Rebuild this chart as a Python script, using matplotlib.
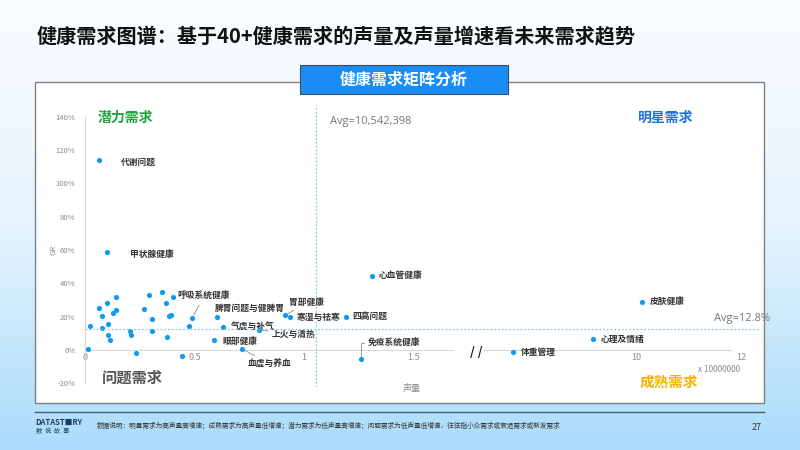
import numpy as np
import matplotlib
matplotlib.use("Agg")
import matplotlib.pyplot as plt
from matplotlib.patches import Rectangle
from matplotlib.colors import LinearSegmentedColormap

plt.rcParams['font.family'] = ['Noto Sans CJK SC', 'DejaVu Sans']

# 声量 (x 10000000) / 增速 (%)
names = ['代谢问题', '甲状腺健康', '呼吸系统健康', '脾胃问题与健脾胃', '气虚与补气',
         '眼部健康', '血虚与养血', '上火与清热', '胃部健康', '寒湿与祛寒',
         '四高问题', '心血管健康', '免疫系统健康']
vol = [0.065, 0.10, 0.49, 0.605, 0.63, 0.59, 0.715, 0.795, 0.915, 0.935,
       1.19, 1.31, 1.26]
gr = [113.8, 58.8, 19.4, 19.6, 13.8, 5.8, 0.8, 12.0, 20.8, 19.6,
      19.6, 44.6, -5.4]

# unlabeled small needs
small_vol = [0.015, 0.021, 0.064, 0.076, 0.076, 0.10, 0.107, 0.104, 0.113, 0.14,
             0.13, 0.14, 0.205, 0.21, 0.233, 0.268, 0.294, 0.307, 0.306, 0.35,
             0.37, 0.383, 0.393, 0.373, 0.40, 0.444, 0.475]
small_gr = [0.5, 14.4, 25.4, 20.4, 13.4, 28.4, 15.8, 8.8, 5.8, 31.6,
            22.4, 24.0, 11.6, 9.0, -1.6, 24.4, 32.8, 18.8, 11.2, 35.0,
            28.4, 20.4, 20.8, 8.0, 31.8, -3.6, 14.4]

# big needs on the right side of the break
big_names = ['体重管理', '心理及情绪', '皮肤健康']
big_vol = [7.65, 9.18, 10.11]
big_gr = [-1.2, 6.4, 29.0]

avg_vol = 1.0542398
avg_gr = 12.8

left_ticks = [0, 0.5, 1, 1.5]
right_ticks = [10, 12]
y_ticks = [-20, 0, 20, 40, 60, 80, 100, 120, 140]

# label offsets in pixels (dx, dy), default (7, 0)
offsets = {'代谢问题': (22, -2), '甲状腺健康': (23, -2), '呼吸系统健康': (-15, 21),
           '脾胃问题与健脾胃': (-3, 9), '气虚与补气': (8, 1), '眼部健康': (8, -1),
           '血虚与养血': (6, -15), '上火与清热': (13, -4), '胃部健康': (4, 13),
           '免疫系统健康': (7, 16)}
leaders = ['呼吸系统健康', '血虚与养血', '上火与清热', '胃部健康', '免疫系统健康']

W, H = 800, 450
fig = plt.figure(figsize=(8, 4.5), dpi=100)

# background gradient
bg = fig.add_axes([0, 0, 1, 1])
cmap = LinearSegmentedColormap.from_list('bg', ['#fbfdff', '#e6f4fe', '#a9dcfb'])
grad = np.linspace(0, 1, 256).reshape(-1, 1)
bg.imshow(grad, aspect='auto', cmap=cmap, extent=[0, 1, 0, 1], origin='upper')
bg.set_xlim(0, 1)
bg.set_ylim(0, 1)
bg.axis('off')


def fx(px):
    return px / W


def fy(py):
    return 1 - py / H


# white panel
bg.add_patch(Rectangle((fx(35), fy(403)), fx(764) - fx(35), fy(82) - fy(403),
                       facecolor='white', edgecolor='#7f7f7f', lw=1.0, zorder=2))
# header box
bg.add_patch(Rectangle((fx(300), fy(94)), fx(508) - fx(300), fy(65) - fy(94),
                       facecolor='#1a8cf5', edgecolor='#3d4b5c', lw=0.8, zorder=3))
bg.text(fx(404), fy(79.5), '健康需求矩阵分析', color='white', fontsize=11.5,
        fontweight='bold', ha='center', va='center', zorder=4)
bg.text(fx(37), fy(37), '健康需求图谱：基于40+健康需求的声量及声量增速看未来需求趋势',
        fontsize=14.5, fontweight='bold', color='#111111', ha='left', va='center')
# footer
bg.plot([fx(35), fx(764)], [fy(412), fy(412)], color='#4a5a6a', lw=1.0)
bg.text(fx(35), fy(422), 'DATAST■RY', fontsize=5.5, fontweight='bold', color='#1f3b63',
        ha='left', va='center')
bg.text(fx(36), fy(431), '数  说  故  事', fontsize=4.5, color='#1f3b63', ha='left', va='center')
bg.text(fx(97), fy(426), '数据说明：明星需求为高声量高增速；成熟需求为高声量低增速；潜力需求为低声量高增速；'
        '问题需求为低声量低增速，往往指小众需求或衰退需求或新发需求',
        fontsize=4.8, color='#333333', ha='left', va='center')
bg.text(fx(762), fy(427), '27', fontsize=6.5, color='#333333', ha='right', va='center')

ylim = (-22, 147)
pxy = 1.667  # px per %
bottom = fy(350 + (-ylim[0]) * pxy)
height = (ylim[1] - ylim[0]) * pxy / H

# left axes (0 .. 1.72)
x0_px, pxx = 85, 219
ax = fig.add_axes([fx(x0_px), bottom, 1.72 * pxx / W, height])
# right axes (7 .. 12.1)
pxr = 52.5
r0_px = 636 - 3 * pxr
ax2 = fig.add_axes([fx(r0_px), bottom, 5.1 * pxr / W, height])
# overlay for horizontal avg line
ov = fig.add_axes([fx(85), bottom, fx(760) - fx(85), height])

for a in (ax, ax2, ov):
    a.set_ylim(*ylim)
    a.patch.set_alpha(0)
ax.set_xlim(0, 1.72)
ax2.set_xlim(7, 12.1)
ov.axis('off')
ov.set_xlim(0, 1)

pt_color = '#0f9af0'
axis_col = '#d9d9d9'
tick_col = '#8c8c8c'

for a in (ax, ax2):
    a.spines['top'].set_visible(False)
    a.spines['right'].set_visible(False)
    a.spines['bottom'].set_position(('data', 0))
    a.spines['bottom'].set_color(axis_col)
    a.tick_params(axis='x', length=0, pad=2.5, labelsize=6.5, labelcolor=tick_col)
ax.spines['left'].set_color(axis_col)
ax.spines['left'].set_bounds(-20, 140)
ax.spines['bottom'].set_bounds(0, 1.68)
ax2.spines['left'].set_visible(False)
ax2.spines['bottom'].set_bounds(7.1, 11.8)
ax.set_yticks(y_ticks)
ax.set_yticklabels([f'{v}%' for v in y_ticks])
ax.tick_params(axis='y', length=0, pad=7, labelsize=5.5, labelcolor=tick_col)
ax2.set_yticks([])
ax.set_xticks(left_ticks)
ax.set_xticklabels(['0', '0.5', '1', '1.5'])
ax2.set_xticks(right_ticks)
ax2.set_xticklabels(['10', '12'])

# avg lines
ov.axhline(avg_gr, color='#8cc8e6', lw=0.9, ls=(0, (1.5, 1.5)))
ax.axvline(avg_vol, color='#8cc8e6', lw=0.9, ls=(0, (1.5, 1.5)))
ax.annotate('Avg=10,542,398', (avg_vol, 137), xytext=(14, 0), textcoords='offset pixels',
            fontsize=8, color='#777777', ha='left', va='center',
            family=['Open Sans', 'DejaVu Sans'])
bg.text(fx(770), fy(318), 'Avg=12.8%', fontsize=8, color='#777777', ha='right', va='center',
        family=['Open Sans', 'DejaVu Sans'], zorder=5)

# points
ax.scatter(small_vol, small_gr, s=14, color=pt_color, zorder=3, linewidths=0, clip_on=False)
ax.scatter(vol, gr, s=14, color=pt_color, zorder=3, linewidths=0, clip_on=False)
ax2.scatter(big_vol, big_gr, s=14, color=pt_color, zorder=3, linewidths=0)

lab_kw = dict(fontsize=6.3, fontweight='bold', color='#333333', va='center', ha='left')
for n, x, y in zip(names, vol, gr):
    dx, dy = offsets.get(n, (7, 0))
    if n in leaders:
        conn = 'angle,angleA=180,angleB=90,rad=0' if n == '免疫系统健康' else 'arc3'
        ax.annotate(n, (x, y), xytext=(dx, dy), textcoords='offset pixels',
                    arrowprops=dict(arrowstyle='-', color='#888888', lw=0.6,
                                    shrinkA=1, shrinkB=2, connectionstyle=conn), **lab_kw)
    else:
        ax.annotate(n, (x, y), xytext=(dx, dy), textcoords='offset pixels', **lab_kw)
for n, x, y in zip(big_names, big_vol, big_gr):
    ax2.annotate(n, (x, y), xytext=(8, 0), textcoords='offset pixels', **lab_kw)

# break mark
bg.text(fx(476), fy(352), '/ /', fontsize=9, fontweight='bold', color='#222222',
        ha='center', va='center', zorder=5)

# axis titles
bg.text(fx(412), fy(388), '声量', fontsize=6.5, color='#8c8c8c', ha='center', va='center', zorder=5)
bg.text(fx(53), fy(250), 'GR', fontsize=5.5, color='#8c8c8c', ha='center', va='center',
        rotation=90, zorder=5)
bg.text(fx(740), fy(370), 'x 10000000', fontsize=6, color='#8c8c8c', ha='right', va='center',
        zorder=5)

# quadrant names
bg.text(fx(98), fy(118), '潜力需求', fontsize=10, fontweight='bold', color='#22a43c',
        ha='left', va='center', zorder=5)
bg.text(fx(637), fy(118), '明星需求', fontsize=10, fontweight='bold', color='#1a73e0',
        ha='left', va='center', zorder=5)
bg.text(fx(102), fy(378), '问题需求', fontsize=11, fontweight='bold', color='#555555',
        ha='left', va='center', zorder=5)
bg.text(fx(640), fy(382), '成熟需求', fontsize=10.5, fontweight='bold', color='#f5b400',
        ha='left', va='center', zorder=5)

fig.savefig('out.png', dpi=100)
